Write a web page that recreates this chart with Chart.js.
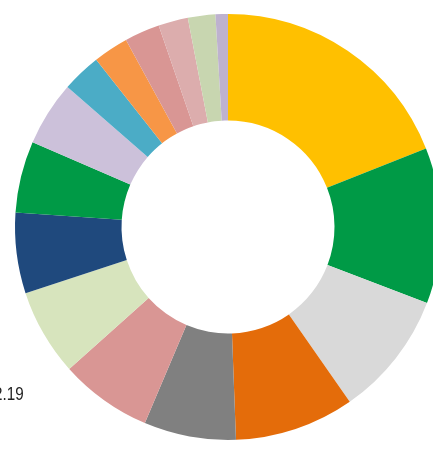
<!DOCTYPE html>
<html>
<head>
<meta charset="utf-8">
<script src="https://cdn.jsdelivr.net/npm/chart.js@4/dist/chart.umd.min.js"></script>
<style>
    html, body { margin: 0; padding: 0; background: #fff; overflow: hidden; width: 433px; height: 455px; }
    #wrap { position: absolute; left: 0; top: 0; width: 456px; height: 454px; }
    #lbl { position: absolute; left: -6px; top: 383px; font-family: "Liberation Sans", Arial, sans-serif; font-size: 19px; line-height: 21px; color: #222; transform: scaleX(0.8); transform-origin: left top; }
</style>
</head>
<body>
<div id="wrap"><canvas id="donut"></canvas></div>
<div id="lbl">2.19</div>
<script>
// slices, clockwise from 12 o'clock (in %)
const labels = ["A", "B", "C", "D", "E", "F", "G", "H", "I", "J", "K", "L", "M", "N", "O", "P"];
const values = [18.97, 11.81, 9.50, 9.08, 6.97, 7.00, 6.58, 6.11, 5.42, 4.89, 2.97, 2.67, 2.67, 2.25, 2.08, 0.94];
const colors = ["#FFC000", "#009A46", "#D9D9D9", "#E46C0A", "#808080", "#D99694", "#D7E4BD", "#1F497D",
                "#009A46", "#CCC1DA", "#4BACC6", "#F79646", "#D99694", "#DCADAD", "#C8D6B0", "#BEB2CF"];

const ctx = document.getElementById("donut").getContext("2d");
const chart = new Chart(ctx, {
    type: "doughnut",
    data: {
        labels: labels,
        datasets: [{
            data: values,
            backgroundColor: colors,
            borderWidth: 0
        }]
    },
    options: {
        responsive: true,
        maintainAspectRatio: false,
        animation: false,
        cutout: "50%",
        layout: { padding: 14 },
        plugins: {
            legend: { display: false },
            tooltip: { enabled: false }
        }
    }
});
</script>
</body>
</html>
